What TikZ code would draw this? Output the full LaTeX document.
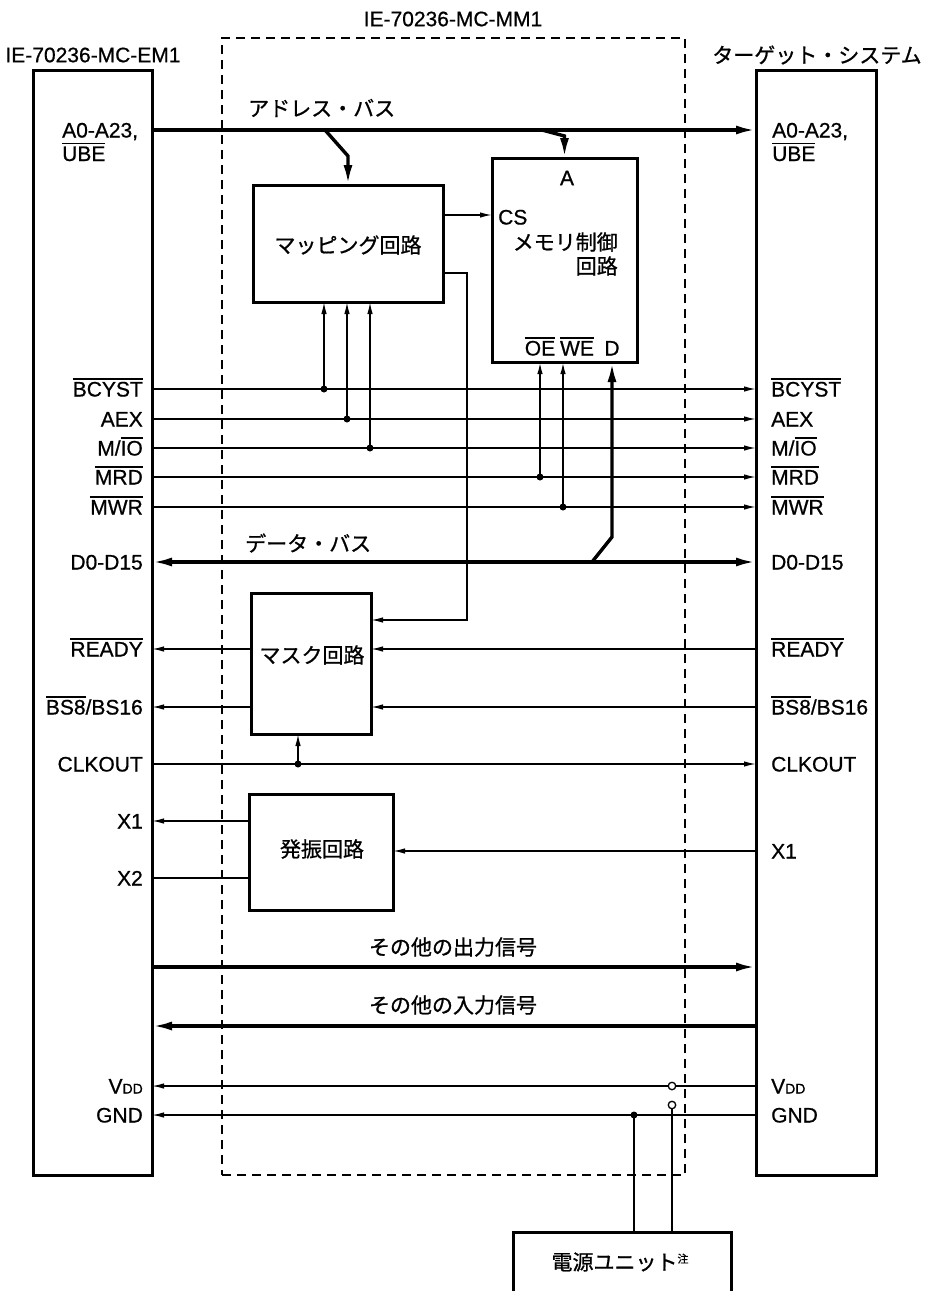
\documentclass[tikz,border=0pt]{standalone}
\usepackage{fontspec}
\setmainfont{Liberation Sans}[FakeBold=0.7]
\newfontfamily\jp{Noto Sans CJK JP}[FakeBold=0.9]
\usetikzlibrary{arrows.meta}
\newcommand{\ovl}[1]{\vbox{\hrule height 1.4pt\kern 2.2pt\hbox{#1}}}
\begin{document}
\begin{tikzpicture}[x=1pt,y=-1pt,
  font=\fontsize{21}{25}\selectfont,
  boxs/.style={draw, line width=3pt, inner sep=0pt, outer sep=0pt, anchor=north west},
  sig/.style={line width=1.4pt},
  bus/.style={line width=3.4pt},
  st/.style={-{Latex[length=12pt,width=5.5pt]}},
  bt/.style={-{Latex[length=20pt,width=9pt]}},
  bbt/.style={{Latex[length=20pt,width=9pt]}-{Latex[length=20pt,width=9pt]}},
  dot/.style={circle, fill, inner sep=0pt, minimum size=7pt},
  ring/.style={circle, draw, fill=white, line width=1.3pt, inner sep=0pt, minimum size=7.5pt},
  lbl/.style={anchor=base east, inner sep=0pt},
  rbl/.style={anchor=base west, inner sep=0pt},
  jtxt/.style={font=\fontsize{21}{25}\selectfont\jp, inner sep=0pt},
]
\useasboundingbox (0,0) rectangle (927,1291);
\clip (0,0) rectangle (927,1291);

% boxes
\node[boxs, minimum width=119pt, minimum height=1105pt] (em1) at (33,70) {};
\node[boxs, minimum width=120pt, minimum height=1105pt] (tgt) at (756,70) {};
\node[draw, line width=2.5pt, dash pattern=on 9pt off 6pt, inner sep=0pt, outer sep=0pt,
      anchor=north west, minimum width=463pt, minimum height=1137pt] (mm1) at (222,38) {};
\node[boxs, minimum width=190pt, minimum height=117pt] (map) at (253,185) {};
\node[boxs, minimum width=145pt, minimum height=204pt] (mem) at (492,158) {};
\node[boxs, minimum width=120pt, minimum height=141pt] (mask) at (251,593) {};
\node[boxs, minimum width=144pt, minimum height=116pt] (osc) at (249,794) {};
\node[boxs, minimum width=218pt, minimum height=90pt] (pwr) at (513,1232) {};

% titles
\node[inner sep=0pt] (tmm) at (453,19) {IE-70236-MC-MM1};
\node[inner sep=0pt] (tem) at (93,55) {IE-70236-MC-EM1};
\node[jtxt] (ttg) at (817,55) {ターゲット・システム};

% address bus
\draw[bus,bt] (em1.east |- 0,130) -- (tgt.west |- 0,130);
\coordinate (ab1) at (325,130);
\coordinate (ab2) at (348,156);
\draw[bus,bt] (ab1) -- (ab2) -- (map.north);
\coordinate (ab3) at (542,130);
\coordinate (ab4) at (564.5,136);
\draw[bus,bt] (ab3) -- (ab4) -- (mem.north);
\node[jtxt, anchor=west] (tab) at (248,108) {アドレス・バス};

% mapping -> CS
\draw[sig,st] (map.east |- 0,215) -- (mem.west |- 0,215);
% mapping -> mask
\coordinate (mk1) at (467,273);
\coordinate (mk2) at (467,620);
\draw[sig,st] (map.east |- mk1) -- (mk1) -- (mk2) -- (mask.east |- mk2);

% control signals
\foreach \yy in {389,419,448,477,507}{
  \draw[sig,st] (em1.east |- 0,\yy) -- (tgt.west |- 0,\yy);
}
\node[dot] (d1) at (324,389) {};
\node[dot] (d2) at (347,419) {};
\node[dot] (d3) at (370,448) {};
\node[dot] (d4) at (540,477) {};
\node[dot] (d5) at (563,507) {};
\draw[sig,st] (d1.center) -- (d1 |- map.south);
\draw[sig,st] (d2.center) -- (d2 |- map.south);
\draw[sig,st] (d3.center) -- (d3 |- map.south);
\draw[sig,st,line width=1.8pt] (d4.center) -- (d4 |- mem.south);
\draw[sig,st,line width=1.8pt] (d5.center) -- (d5 |- mem.south);

% data bus
\draw[bus,bbt] (em1.east |- 0,562) -- (tgt.west |- 0,562);
\coordinate (dj) at (592,562);
\coordinate (dk) at (612,537);
\draw[bus,bt] (dj) -- (dk) -- (dk |- mem.south);
\node[jtxt, anchor=west] (tdb) at (245,543) {データ・バス};

% mask circuit
\draw[sig,st] (tgt.west |- 0,649) -- (mask.east |- 0,649);
\draw[sig,st] (mask.west |- 0,649) -- (em1.east |- 0,649);
\draw[sig,st] (tgt.west |- 0,707) -- (mask.east |- 0,707);
\draw[sig,st] (mask.west |- 0,707) -- (em1.east |- 0,707);
\draw[sig,st] (em1.east |- 0,764) -- (tgt.west |- 0,764);
\node[dot] (d6) at (298,764) {};
\draw[sig,st] (d6.center) -- (d6 |- mask.south);

% oscillator
\draw[sig,st] (osc.west |- 0,821) -- (em1.east |- 0,821);
\draw[sig] (em1.east |- 0,878) -- (osc.west |- 0,878);
\draw[sig,st] (tgt.west |- 0,851) -- (osc.east |- 0,851);

% other signals
\draw[bus,bt] (em1.east |- 0,967) -- (tgt.west |- 0,967);
\draw[bus,bt] (tgt.west |- 0,1026) -- (em1.east |- 0,1026);
\node[jtxt] (tout) at (453,947) {その他の出力信号};
\node[jtxt] (tin) at (453,1005) {その他の入力信号};

% power
\draw[sig,st] (tgt.west |- 0,1086) -- (em1.east |- 0,1086);
\draw[sig,st] (tgt.west |- 0,1115) -- (em1.east |- 0,1115);
\node[ring] (vr) at (672,1086) {};
\node[dot] (gd) at (634,1115) {};
\draw[sig] (gd.center) -- (gd |- pwr.north);
\node[ring] (gr) at (672,1105) {};
\draw[sig] (gr.south) -- (gr |- pwr.north);

% box texts
\node[jtxt] (tmap) at (348,245) {マッピング回路};
\node[inner sep=0pt] (tA) at (567,178) {A};
\node[rbl] (tcs) at (498,224.5) {CS};
\node[jtxt, anchor=east] (tmem1) at (618,242) {メモリ制御};
\node[jtxt, anchor=east] (tmem2) at (618,266) {回路};
\node[anchor=base, inner sep=0pt] (toe) at (540,355.5) {\ovl{OE}};
\node[anchor=base, inner sep=0pt] (twe) at (577,355.5) {\ovl{WE}};
\node[anchor=base, inner sep=0pt] (td) at (612,355.5) {D};
\node[jtxt] (tmask) at (312,655) {マスク回路};
\node[jtxt] (tosc) at (322,849) {発振回路};
\node[jtxt] (tpwr) at (620,1262) {電源ユニット\raisebox{7pt}{\fontsize{11}{11}\selectfont 注}};

% left labels
\node[anchor=base west, inner sep=0pt] (la1) at (62,137.5) {A0-A23,};
\node[anchor=base west, inner sep=0pt] (la2) at (62,161) {\ovl{UBE}};
\node[lbl] (l1) at (143,396.5) {\ovl{BCYST}};
\node[lbl] (l2) at (143,426.5) {AEX};
\node[lbl] (l3) at (143,455.5) {M/\ovl{IO}};
\node[lbl] (l4) at (143,484.5) {\ovl{MRD}};
\node[lbl] (l5) at (143,514.5) {\ovl{MWR}};
\node[lbl] (l6) at (143,569.5) {D0-D15};
\node[lbl] (l7) at (143,656.5) {\ovl{READY}};
\node[lbl] (l8) at (143,714.5) {\ovl{BS8}/BS16};
\node[lbl] (l9) at (143,771.5) {CLKOUT};
\node[lbl] (l10) at (143,828.5) {X1};
\node[lbl] (l11) at (143,885.5) {X2};
\node[lbl] (l12) at (143,1093.5) {V{\fontsize{14}{14}\selectfont DD}};
\node[lbl] (l13) at (143,1122.5) {GND};

% right labels
\node[rbl] (ra1) at (772,137.5) {A0-A23,};
\node[rbl] (ra2) at (772,161) {\ovl{UBE}};
\node[rbl] (r1) at (771,396.5) {\ovl{BCYST}};
\node[rbl] (r2) at (771,426.5) {AEX};
\node[rbl] (r3) at (771,455.5) {M/\ovl{IO}};
\node[rbl] (r4) at (771,484.5) {\ovl{MRD}};
\node[rbl] (r5) at (771,514.5) {\ovl{MWR}};
\node[rbl] (r6) at (771,569.5) {D0-D15};
\node[rbl] (r7) at (771,656.5) {\ovl{READY}};
\node[rbl] (r8) at (771,714.5) {\ovl{BS8}/BS16};
\node[rbl] (r9) at (771,771.5) {CLKOUT};
\node[rbl] (r10) at (771,858.5) {X1};
\node[rbl] (r11) at (771,1093.5) {V{\fontsize{14}{14}\selectfont DD}};
\node[rbl] (r12) at (771,1122.5) {GND};
\end{tikzpicture}
\end{document}
